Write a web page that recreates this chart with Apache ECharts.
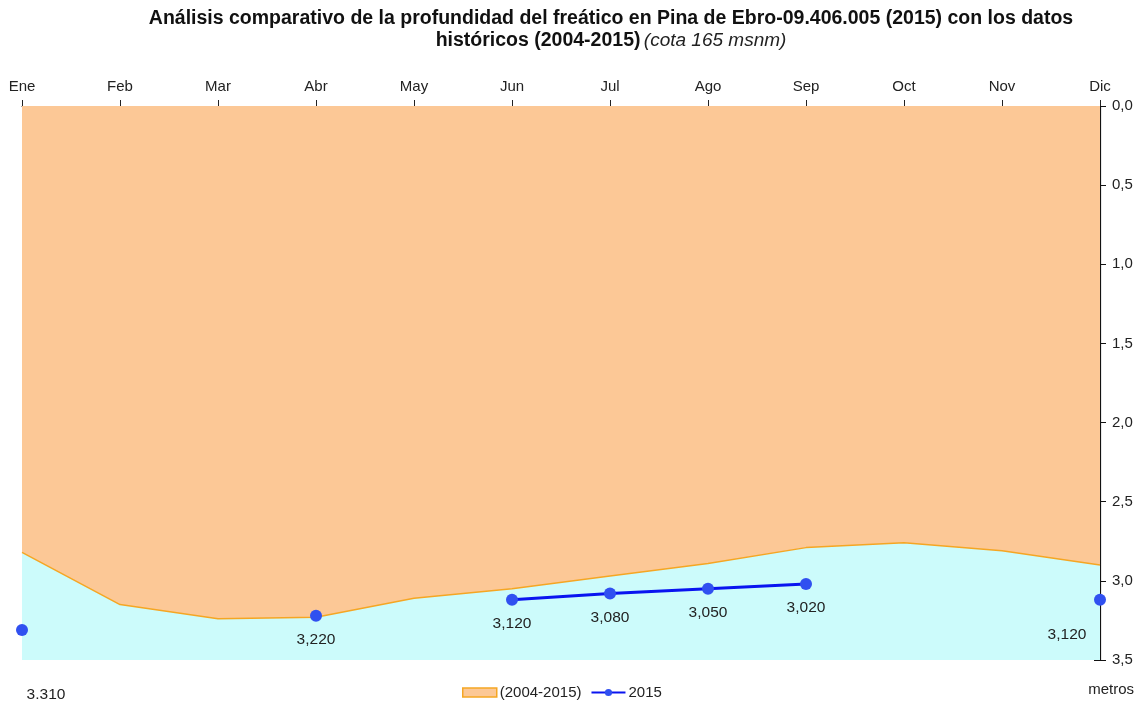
<!DOCTYPE html>
<html>
<head>
<meta charset="utf-8">
<script src="https://cdn.jsdelivr.net/npm/echarts@6/dist/echarts.min.js"></script>
<style>html,body{margin:0;padding:0;background:#fff}#c{width:1145px;height:708px}</style>
</head>
<body>
<div id="c"></div>
<script>
var months = ['Ene','Feb','Mar','Abr','May','Jun','Jul','Ago','Sep','Oct','Nov','Dic'];
var historico = [2.82, 3.15, 3.24, 3.23, 3.11, 3.05, 2.97, 2.89, 2.79, 2.76, 2.81, 2.90];
var valores2015 = [3.310, null, null, 3.220, null, 3.120, 3.080, 3.050, 3.020, null, null, 3.120];
var yTicks = [0, 0.5, 1, 1.5, 2, 2.5, 3, 3.5];

var FONT = 'Liberation Sans, Arial, sans-serif';
var chart = echarts.init(document.getElementById('c'), null, {renderer: 'canvas'});

function fmt(v, sep) { return v.toFixed(3).replace('.', sep); }

var labelTweaks = {0: {offset: [24, 41], sep: '.'}, 11: {offset: [-33, 11], sep: ','}};

var data2015 = valores2015.map(function (v, i) {
  if (v === null) return null;
  var t = labelTweaks[i];
  var item = {value: v};
  item.label = {formatter: fmt(v, t ? t.sep : ',')};
  if (t) item.label.offset = t.offset;
  return item;
});

var option = {
  animation: false,
  backgroundColor: '#fff',
  graphic: [{
    type: 'text',
    x: 611,
    y: 8,
    style: {
      text: '{b|Análisis comparativo de la profundidad del freático en Pina de Ebro-09.406.005 (2015) con los datos}\n{b|históricos (2004-2015)} {i|(cota 165 msnm)}',
      textAlign: 'center',
      textVerticalAlign: 'top',
      rich: {
        b: {fontFamily: FONT, fontSize: 19.5, fontWeight: 'bold', fill: '#111', lineHeight: 22},
        i: {fontFamily: FONT, fontSize: 19, fontStyle: 'italic', fill: '#222', lineHeight: 22}
      }
    }
  }, {
    type: 'text',
    right: 11,
    top: 682,
    style: {text: 'metros', fontFamily: FONT, fontSize: 15, fill: '#222'}
  }],
  legend: {
    bottom: 8,
    left: 462,
    padding: 0,
    itemGap: 9,
    itemWidth: 34,
    itemHeight: 9,
    textStyle: {fontFamily: FONT, fontSize: 15, color: '#222', padding: [0, 0, 0, -2]},
    data: [
      {name: '(2004-2015)', icon: 'rect', itemStyle: {color: '#FCC896', borderColor: '#F5A623', borderWidth: 1.5}},
      {name: '2015'}
    ]
  },
  grid: {left: 22, right: 45, top: 106, bottom: 48, containLabel: false},
  xAxis: {
    type: 'category',
    position: 'top',
    boundaryGap: false,
    data: months,
    axisLine: {show: true, lineStyle: {color: '#222', width: 1}},
    axisTick: {show: true, length: 6, lineStyle: {color: '#222'}},
    axisLabel: {fontFamily: FONT, fontSize: 15, color: '#222', margin: 12},
    splitLine: {show: false}
  },
  yAxis: [{
    type: 'value',
    position: 'right',
    inverse: true,
    min: 0, max: 3.5, interval: 0.5,
    axisLine: {show: true, lineStyle: {color: '#111', width: 1.2}},
    axisTick: {show: true, length: 6, lineStyle: {color: '#111'}},
    axisLabel: {fontFamily: FONT, fontSize: 15, color: '#222', margin: 12,
      formatter: function (v) { return v.toFixed(1).replace('.', ','); }},
    splitLine: {show: false}
  }, {
    type: 'value',
    position: 'right',
    inverse: true,
    min: 0, max: 3.5, interval: 0.5,
    axisLine: {show: false},
    axisTick: {show: true, inside: true, length: 6, lineStyle: {color: '#111'}},
    axisLabel: {show: false},
    splitLine: {show: false}
  }],
  series: [{
    name: 'fondo',
    type: 'line',
    data: historico,
    symbol: 'none',
    silent: true,
    lineStyle: {width: 0, color: '#CCFBFB'},
    areaStyle: {color: '#CCFBFB', opacity: 1, origin: 'end'},
    z: 1
  }, {
    name: '(2004-2015)',
    type: 'line',
    data: historico,
    symbol: 'none',
    lineStyle: {width: 1.5, color: '#F5A623'},
    itemStyle: {color: '#FCC896'},
    areaStyle: {color: '#FCC896', opacity: 1, origin: 'start'},
    z: 2
  }, {
    name: '2015',
    type: 'line',
    data: data2015,
    connectNulls: false,
    symbol: 'circle',
    symbolSize: 12,
    showSymbol: true,
    lineStyle: {width: 3, color: '#0A14F0'},
    itemStyle: {color: '#3050F0'},
    label: {show: true, position: 'bottom', distance: 10, fontFamily: FONT, fontSize: 15.5, color: '#222'},
    z: 5
  }]
};
chart.setOption(option);
</script>
</body>
</html>
